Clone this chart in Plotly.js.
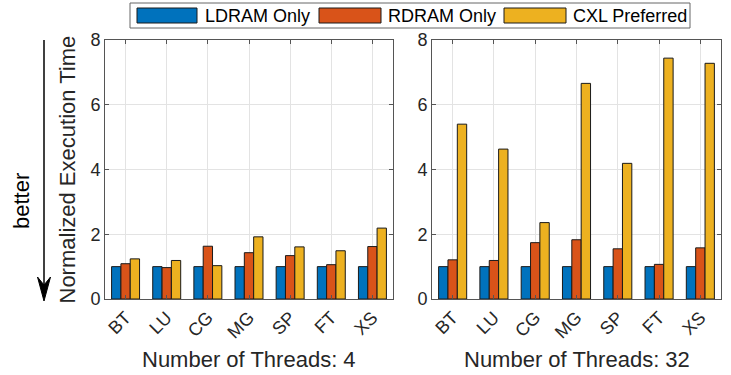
<!DOCTYPE html>
<html>
<head>
<meta charset="utf-8">
<script src="https://cdn.plot.ly/plotly-3.0.1.min.js"></script>
<style>html,body{margin:0;padding:0;background:#fff;}#chart{width:731px;height:375px;}</style>
</head>
<body>
<div id="chart"></div>
<script>
const categories = ['BT', 'LU', 'CG', 'MG', 'SP', 'FT', 'XS'];
const seriesNames = ['LDRAM Only', 'RDRAM Only', 'CXL Preferred'];
const ldram4  = [1.00, 1.00, 1.00, 1.00, 1.00, 1.00, 1.00];
const rdram4  = [1.09, 0.97, 1.63, 1.43, 1.34, 1.06, 1.62];
const cxl4    = [1.24, 1.19, 1.03, 1.92, 1.61, 1.49, 2.19];
const ldram32 = [1.00, 1.00, 1.00, 1.00, 1.00, 1.00, 1.00];
const rdram32 = [1.21, 1.19, 1.74, 1.83, 1.55, 1.07, 1.58];
const cxl32   = [5.40, 4.63, 2.36, 6.66, 4.19, 7.44, 7.28];
const yTicks = [0, 2, 4, 6, 8];
const xTitles = ['Number of Threads: 4', 'Number of Threads: 32'];
const yTitle = 'Normalized Execution Time';

const colors = ['#0072BD', '#D95319', '#EDB120'];
const W = 731, H = 375;
const px = x => x / W;
const py = y => 1 - y / H;
const FONT = 'Liberation Sans, Arial, sans-serif';
const TXT = '#262626';

const groups = [[ldram4, rdram4, cxl4], [ldram32, rdram32, cxl32]];
const traces = [];
groups.forEach((g, gi) => {
  g.forEach((vals, si) => {
    traces.push({
      type: 'bar', x: categories, y: vals, name: seriesNames[si],
      xaxis: gi === 0 ? 'x' : 'x2', yaxis: gi === 0 ? 'y' : 'y2',
      marker: {color: colors[si], line: {color: '#1a1a1a', width: 1}},
      showlegend: false, hoverinfo: 'x+y+name'
    });
  });
});

const xBase = {
  type: 'category', range: [-0.5, 6.5], tickangle: -45,
  showgrid: true, gridcolor: '#e3e3e3', gridwidth: 1,
  ticks: 'inside', ticklen: 4, tickcolor: '#555',
  showline: true, linecolor: '#555', linewidth: 1, mirror: 'ticks',
  tickfont: {family: FONT, size: 18, color: TXT}, zeroline: false
};
const yBase = {
  range: [0, 8], tickvals: yTicks, ticktext: yTicks.map(String),
  showgrid: true, gridcolor: '#e3e3e3', gridwidth: 1,
  ticks: 'inside', ticklen: 4, tickcolor: '#555',
  showline: true, linecolor: '#555', linewidth: 1, mirror: 'ticks',
  tickfont: {family: FONT, size: 18, color: TXT}, zeroline: false
};
const yDom = [py(299), py(40)];

const layout = {
  width: W, height: H,
  margin: {l: 0, r: 0, t: 0, b: 0},
  paper_bgcolor: '#fff', plot_bgcolor: '#fff',
  barmode: 'group', bargap: 0.32, bargroupgap: 0,
  showlegend: false,
  font: {family: FONT, color: TXT},
  xaxis: Object.assign({}, xBase, {domain: [px(105), px(393)], anchor: 'y'}),
  yaxis: Object.assign({}, yBase, {domain: yDom, anchor: 'x'}),
  xaxis2: Object.assign({}, xBase, {domain: [px(432), px(721)], anchor: 'y2'}),
  yaxis2: Object.assign({}, yBase, {domain: yDom, anchor: 'x2'}),
  shapes: [
    {type: 'rect', xref: 'paper', yref: 'paper', x0: px(130), x1: px(690), y0: py(28), y1: py(3),
     line: {color: '#666', width: 1}, fillcolor: '#fff'},
    {type: 'rect', xref: 'paper', yref: 'paper', x0: px(137), x1: px(197), y0: py(23), y1: py(8),
     line: {color: '#1a1a1a', width: 1}, fillcolor: colors[0]},
    {type: 'rect', xref: 'paper', yref: 'paper', x0: px(319), x1: px(381), y0: py(23), y1: py(8),
     line: {color: '#1a1a1a', width: 1}, fillcolor: colors[1]},
    {type: 'rect', xref: 'paper', yref: 'paper', x0: px(504), x1: px(566), y0: py(23), y1: py(8),
     line: {color: '#1a1a1a', width: 1}, fillcolor: colors[2]},
    {type: 'line', xref: 'paper', yref: 'paper', x0: px(44), x1: px(44), y0: py(40), y1: py(288),
     line: {color: '#000', width: 1.5}},
    {type: 'path', xref: 'paper', yref: 'paper',
     path: `M ${px(44)} ${py(301)} L ${px(37.5)} ${py(277)} L ${px(44)} ${py(285)} L ${px(50.5)} ${py(277)} Z`,
     line: {color: '#000', width: 1}, fillcolor: '#000'}
  ],
  annotations: [
    {text: seriesNames[0], xref: 'paper', yref: 'paper', x: px(203), y: py(16), xanchor: 'left', yanchor: 'middle',
     showarrow: false, font: {family: FONT, size: 18, color: '#000'}},
    {text: seriesNames[1], xref: 'paper', yref: 'paper', x: px(386), y: py(16), xanchor: 'left', yanchor: 'middle',
     showarrow: false, font: {family: FONT, size: 18, color: '#000'}},
    {text: seriesNames[2], xref: 'paper', yref: 'paper', x: px(571), y: py(16), xanchor: 'left', yanchor: 'middle',
     showarrow: false, font: {family: FONT, size: 18, color: '#000'}},
    {text: xTitles[0], xref: 'paper', yref: 'paper', x: px(249), y: py(359), xanchor: 'center', yanchor: 'middle',
     showarrow: false, font: {family: FONT, size: 22, color: TXT}},
    {text: xTitles[1], xref: 'paper', yref: 'paper', x: px(576.5), y: py(359), xanchor: 'center', yanchor: 'middle',
     showarrow: false, font: {family: FONT, size: 22, color: TXT}},
    {text: yTitle, xref: 'paper', yref: 'paper', x: px(67), y: py(169.5), xanchor: 'center', yanchor: 'middle',
     textangle: -90, showarrow: false, font: {family: FONT, size: 22, color: TXT}},
    {text: 'better', xref: 'paper', yref: 'paper', x: px(21), y: py(201), xanchor: 'center', yanchor: 'middle',
     textangle: -90, showarrow: false, font: {family: FONT, size: 22, color: '#000'}}
  ]
};

Plotly.newPlot('chart', traces, layout, {staticPlot: true, displayModeBar: false});
</script>
</body>
</html>
